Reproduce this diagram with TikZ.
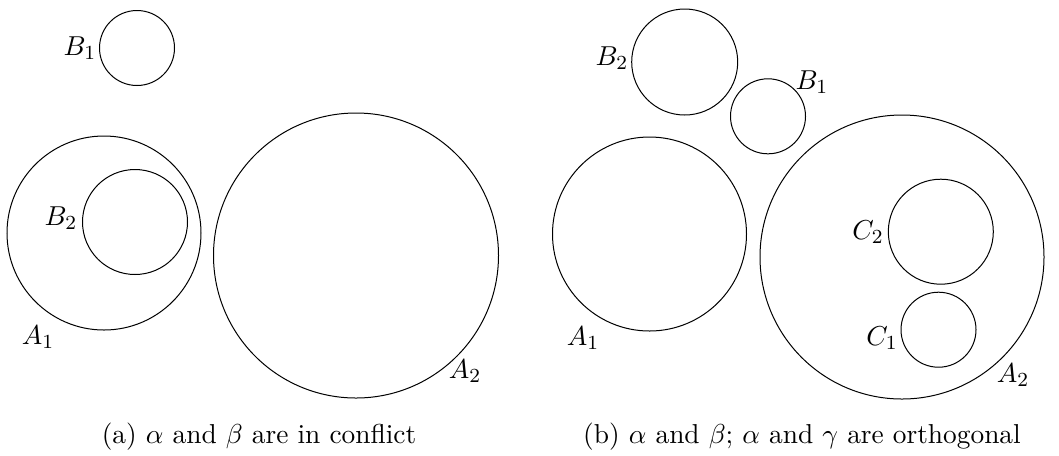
\documentclass[tikz,border=0pt,11pt]{standalone}
\usepackage{amsmath,amssymb}
\usepackage{tikz}
\usetikzlibrary{positioning}

\begin{document}
\begin{tikzpicture}[x=0.4pt, y=-0.4pt]
        \useasboundingbox (0,0) rectangle (1059,455);
        % (a) conflict
        \draw[] (137,48) circle (37.5);
        \draw[] (104,233) circle (97);
        \draw[] (135,222) circle (52.5);
        \draw[] (356,255.5) circle (142.5);
        \node[] (aB1) at (80,48) {$B_1$};
        \node[] (aB2) at (61,218) {$B_2$};
        \node[] (aA1) at (38,337) {$A_1$};
        \node[] (aA2) at (465,371) {$A_2$};
        \node[] (capa) at (259,437) {(a) $\alpha$ and $\beta$ are in conflict};
        % (b) orthogonal
        \draw[] (684.7,62) circle (53);
        \draw[] (768,116.3) circle (37.5);
        \draw[] (649.5,234) circle (97);
        \draw[] (902,257) circle (142);
        \draw[] (940.8,231.7) circle (52.5);
        \draw[] (938.5,329.7) circle (37.5);
        \node[] (bB2) at (612,58) {$B_2$};
        \node[] (bB1) at (812,82) {$B_1$};
        \node[] (bA1) at (583,338) {$A_1$};
        \node[] (bC2) at (868,232) {$C_2$};
        \node[] (bC1) at (882,338) {$C_1$};
        \node[] (bA2) at (1013,375) {$A_2$};
        \node[] (capb) at (802,437) {(b) $\alpha$ and $\beta$; $\alpha$ and $\gamma$ are orthogonal};
    \end{tikzpicture}
\end{document}
